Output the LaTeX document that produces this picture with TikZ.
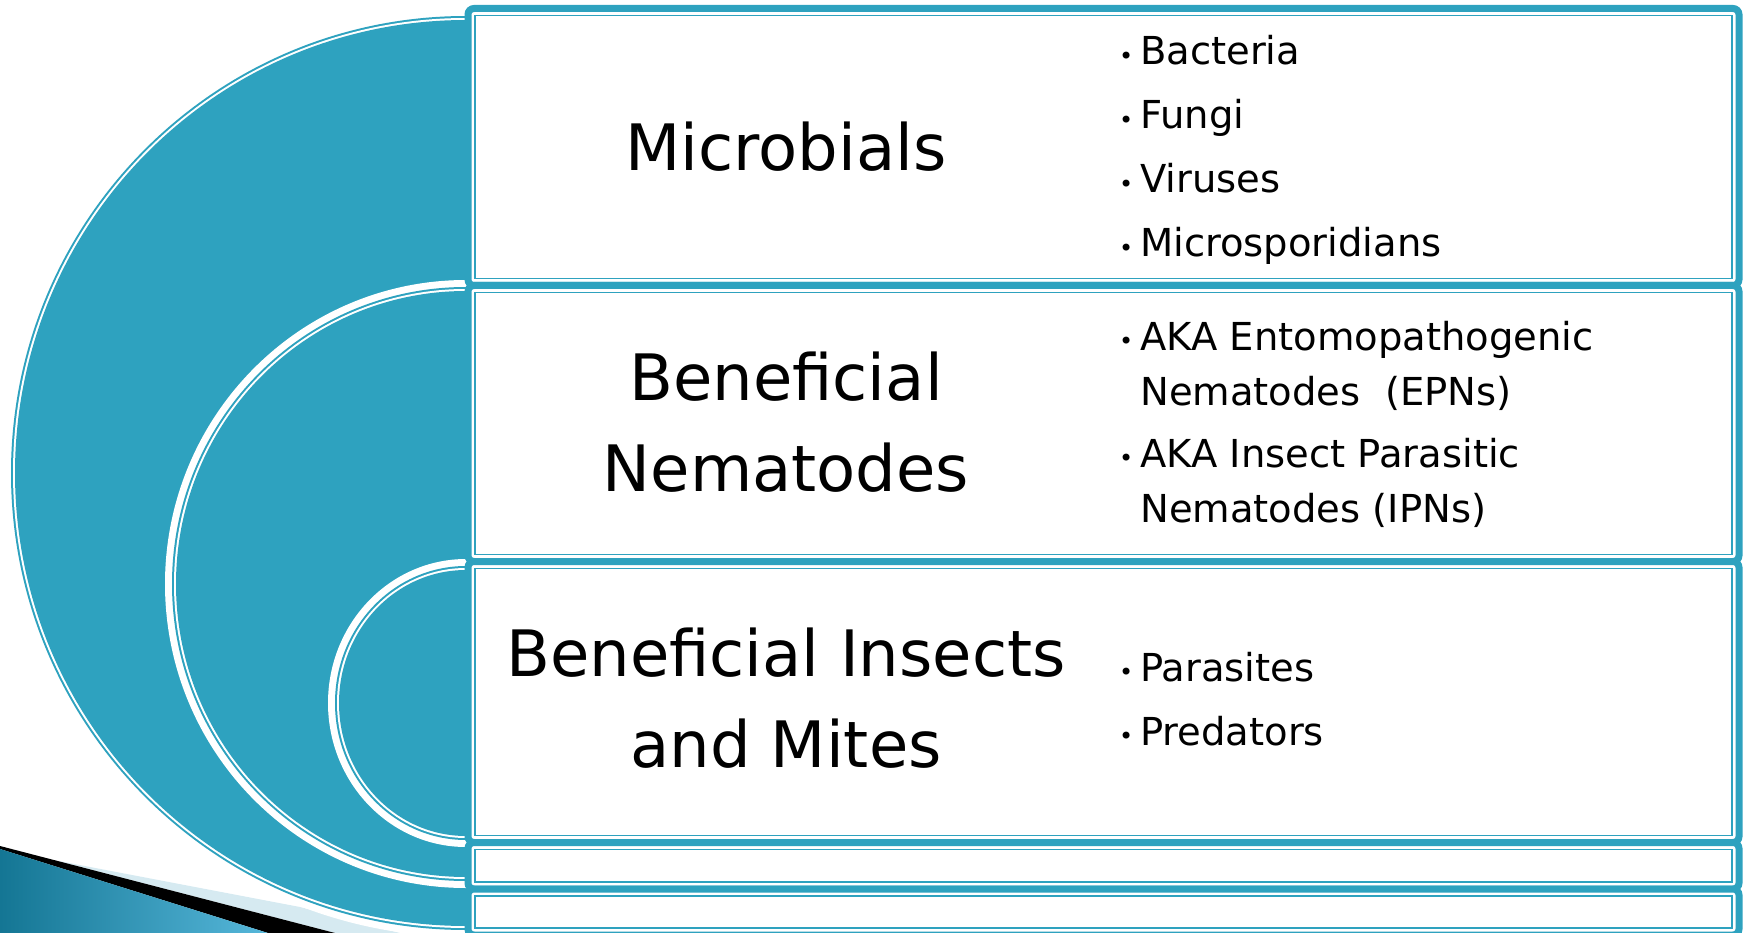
\documentclass[tikz,border=0pt]{standalone}
\usepackage{fontspec}
\setmainfont{DejaVu Sans}
\definecolor{teal1}{RGB}{46,162,191}
\definecolor{shadowblue}{RGB}{214,234,241}
\definecolor{arrowdark}{RGB}{20,118,148}
\definecolor{arrowlight}{RGB}{86,183,218}
\newcommand\mybul{\llap{{\fontsize{24}{24}\selectfont\raisebox{0.5pt}{•}}\hspace{7pt}}}
\begin{document}
\begin{tikzpicture}[x=1pt,y=-1pt,
  rowbox/.style={draw=teal1,line width=7pt,rounded corners=6pt,fill=white},
  innerline/.style={draw=teal1,line width=1.5pt},
  head/.style={font=\fontsize{64}{91}\selectfont,align=center,inner sep=0pt},
  item/.style={font=\fontsize{38.5}{55}\selectfont,align=left,anchor=base west,inner sep=0pt}]
\useasboundingbox (0,0) rectangle (1748,933);
% corner decoration
\fill[shadowblue] (55,860.3) -- (300,907) -- (400,933) -- (335,933) -- cycle;
\fill[black] (0,846) -- (335,933) -- (268,933) -- (0,849) -- cycle;
\shade[left color=arrowdark,right color=arrowlight] (0,849) -- (268,933) -- (0,933) -- cycle;
% nested half circles
\begin{scope}
\clip (0,0) rectangle (468,933);
\foreach \cy/\rx/\ry in {473/451/453, 584/290/293, 703/127/133} {
  \fill[white] (466,\cy) ellipse [x radius={(\rx+11)*1pt}, y radius={(\ry+11)*1pt}];
  \fill[teal1] (466,\cy) ellipse [x radius={(\rx+4)*1pt}, y radius={(\ry+4)*1pt}];
  \fill[white] (466,\cy) ellipse [x radius={(\rx+2)*1pt}, y radius={(\ry+2)*1pt}];
  \fill[teal1] (466,\cy) ellipse [x radius={\rx*1pt}, y radius={\ry*1pt}];
}
\end{scope}
% boxes
\foreach \t/\b in {8.5/285.5, 285.5/561.5, 561.5/842.5, 842.5/889, 889/935} {
  \draw[rowbox] (468,\t) rectangle (1739,\b);
  \draw[innerline] (475,\t+7) rectangle (1732,\b-7);
}
% headings
\node[head,anchor=base] (h1) at (786,171) {Microbials};
\node[head,anchor=center] (h2) at (786,422) {Beneficial\\Nematodes};
\node[head,anchor=center] (h3) at (786,698) {Beneficial Insects\\and Mites};
% items
\node[item] (b1) at (1140,65) {\mybul Bacteria};
\node[item] (b2) at (1140,129) {\mybul Fungi};
\node[item] (b3) at (1140,193) {\mybul Viruses};
\node[item] (b4) at (1140,257) {\mybul Microsporidians};
\node[item] (n1) at (1140,405) {\mybul AKA Entomopathogenic\\Nematodes\ \ (EPNs)};
\node[item] (n2) at (1140,522) {\mybul AKA Insect Parasitic\\Nematodes (IPNs)};
\node[item] (i1) at (1140,681) {\mybul Parasites};
\node[item] (i2) at (1140,745) {\mybul Predators};
\end{tikzpicture}
\end{document}
